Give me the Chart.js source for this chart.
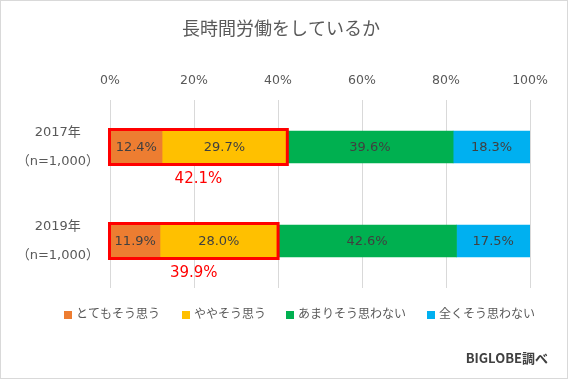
<!DOCTYPE html>
<html>
<head>
<meta charset="utf-8">
<script src="https://cdn.jsdelivr.net/npm/chart.js@4"></script>
<style>
  html, body { margin: 0; padding: 0; background: #fff; }
  #wrap { position: relative; width: 568px; height: 379px; box-sizing: border-box; border: 1px solid #d9d9d9; }
</style>
</head>
<body>
<div id="wrap"><canvas id="chart" width="566" height="377"></canvas></div>
<script>
// データ
const titulo = '長時間労働をしているか';
const categorias = [['2017年', '（n=1,000）'], ['2019年', '（n=1,000）']];
const series = ['とてもそう思う', 'ややそう思う', 'あまりそう思わない', '全くそう思わない'];
const muitoSim = [12.4, 11.9];
const umPoucoSim = [29.7, 28.0];
const poucoNao = [39.6, 42.6];
const nadaNao = [18.3, 17.5];
const cores = ['#ED7D31', '#FFC000', '#00B050', '#00B0F0'];
const fonte = '"DejaVu Sans", "Noto Sans CJK JP", sans-serif';
const fonteJp = '"Noto Sans CJK JP", "Noto Sans", sans-serif';

// Rótulos dentro das barras
const rotulosPlugin = {
  id: 'rotulos',
  afterDatasetsDraw(chart) {
    const ctx = chart.ctx;
    ctx.save();
    ctx.font = '13px ' + fonte;
    ctx.fillStyle = '#404040';
    ctx.textAlign = 'center';
    ctx.textBaseline = 'middle';
    chart.data.datasets.forEach((ds, i) => {
      chart.getDatasetMeta(i).data.forEach((bar, j) => {
        const x = (bar.x + bar.base) / 2;
        ctx.fillText(ds.data[j].toFixed(1) + '%', x, bar.y + 1);
      });
    });
    // Caixa vermelha em torno das duas primeiras séries + total
    const xs = chart.scales.x;
    chart.getDatasetMeta(0).data.forEach((bar, j) => {
      const total = muitoSim[j] + umPoucoSim[j];
      const x0 = xs.getPixelForValue(0) - 0.5;
      const x1 = xs.getPixelForValue(total) + 0.5;
      const h = bar.height;
      const y0 = bar.y - h / 2 - 1.5;
      ctx.strokeStyle = '#FF0000';
      ctx.lineWidth = 3;
      ctx.strokeRect(x0, y0, x1 - x0, h + 3);
      ctx.font = '15px ' + fonte;
      ctx.fillStyle = '#FF0000';
      ctx.fillText(total.toFixed(1) + '%', (x0 + x1) / 2, bar.y + h / 2 + 16);
    });
    ctx.restore();
  }
};

// Título, legenda e fonte
const extrasPlugin = {
  id: 'extras',
  afterDraw(chart) {
    const ctx = chart.ctx;
    ctx.save();
    ctx.fillStyle = '#595959';
    ctx.font = '18px ' + fonteJp;
    ctx.textAlign = 'center';
    ctx.textBaseline = 'middle';
    ctx.fillText(titulo, 280, 27);

    ctx.font = '12px ' + fonteJp;
    ctx.textAlign = 'left';
    const posX = [63, 181, 285, 426];
    series.forEach((s, i) => {
      ctx.fillStyle = cores[i];
      ctx.fillRect(posX[i], 310, 8, 8);
      ctx.fillStyle = '#595959';
      ctx.fillText(s, posX[i] + 12, 312);
    });

    ctx.font = 'bold 13px ' + fonteJp;
    ctx.textAlign = 'right';
    ctx.fillStyle = '#404040';
    ctx.fillText('BIGLOBE調べ', 547, 357);
    ctx.restore();
  }
};

const valores = [muitoSim, umPoucoSim, poucoNao, nadaNao];

new Chart(document.getElementById('chart'), {
  type: 'bar',
  data: {
    labels: categorias,
    datasets: series.map((s, i) => ({
      label: s,
      data: valores[i],
      backgroundColor: cores[i],
      barThickness: 32,
    })),
  },
  options: {
    indexAxis: 'y',
    responsive: false,
    animation: false,
    layout: { padding: { left: 0, right: 37, top: 0, bottom: 90 } },
    plugins: { legend: { display: false }, title: { display: false }, tooltip: { enabled: false } },
    scales: {
      x: {
        position: 'top',
        stacked: true,
        min: 0,
        max: 100,
        ticks: {
          stepSize: 20,
          padding: 12,
          color: '#595959',
          font: { family: fonte, size: 12.5 },
          callback: (v) => v + '%',
        },
        grid: { color: '#d9d9d9', drawTicks: false },
        border: { display: false },
        afterFit: (s) => { s.height = 99; },
      },
      y: {
        stacked: true,
        ticks: {
          color: '#595959',
          crossAlign: 'center',
          font: { family: fonte, size: 13, lineHeight: 2.2 },
        },
        grid: { display: false },
        border: { display: false },
        afterFit: (s) => { s.width = 109; },
      },
    },
  },
  plugins: [rotulosPlugin, extrasPlugin],
});
</script>
</body>
</html>
